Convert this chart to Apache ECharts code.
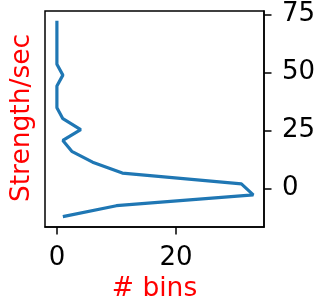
<!DOCTYPE html>
<html><head><meta charset="utf-8">
<script src="https://cdn.jsdelivr.net/npm/echarts@6/dist/echarts.min.js"></script>
<style>html,body{margin:0;padding:0;background:#fff}#c{width:318px;height:308px}</style>
</head><body><div id="c"></div>
<script>
// Bin centers (Strength/sec) and counts (# bins)
const strength = [-12.2, -7.5, -2.8, 1.9, 6.6, 11.3, 16.0, 20.7, 25.4, 30.1, 34.8, 39.5, 44.2, 48.9, 53.6, 58.3, 63.0, 67.7, 72.4];
const counts   = [1, 10, 33, 31, 11, 6, 2.5, 1, 4, 1, 0, 0, 0, 1, 0, 0, 0, 0, 0];
const xTicks = [0, 20];
const yTicks = [0, 25, 50, 75];
const xTitle = '# bins';
const yTitle = 'Strength/sec';

const font = 'DejaVu Sans';
const chart = echarts.init(document.getElementById('c'), null, {renderer: 'canvas'});
chart.setOption({
  animation: false,
  grid: {left: 45, top: 11, width: 219, height: 216, show: true, borderColor: '#000', borderWidth: 1.5, backgroundColor: '#fff',
         containLabel: false, outerBoundsMode: 'none'},
  xAxis: {
    type: 'value', min: -2, max: 34.8,
    name: xTitle, nameLocation: 'middle', nameGap: 49,
    nameTextStyle: {color: 'red', fontFamily: font, fontSize: 26.5},
    axisLine: {show: true, onZero: false, lineStyle: {color: '#000', width: 1.5}},
    splitLine: {show: false},
    axisTick: {show: true, length: 7.5, lineStyle: {color: '#000', width: 1.5}, customValues: xTicks},
    axisLabel: {color: '#000', fontFamily: font, fontSize: 26, margin: 18, customValues: xTicks}
  },
  yAxis: {
    type: 'value', position: 'right', min: -16.7, max: 76.6,
    axisLine: {show: true, onZero: false, lineStyle: {color: '#000', width: 1.5}},
    splitLine: {show: false},
    axisTick: {show: true, length: 7.5, lineStyle: {color: '#000', width: 1.5}, customValues: yTicks},
    axisLabel: {color: '#000', fontFamily: font, fontSize: 26, margin: 18, customValues: yTicks}
  },
  graphic: [{
    type: 'text', x: 22, y: 118, rotation: Math.PI / 2,
    style: {text: yTitle, fill: 'red', font: '26.5px "DejaVu Sans"', align: 'center', verticalAlign: 'middle'}
  }],
  series: [{
    type: 'line', showSymbol: false, symbol: 'none',
    lineStyle: {color: '#1f77b4', width: 3.2},
    data: counts.map((c, i) => [c, strength[i]])
  }]
});
</script></body></html>
